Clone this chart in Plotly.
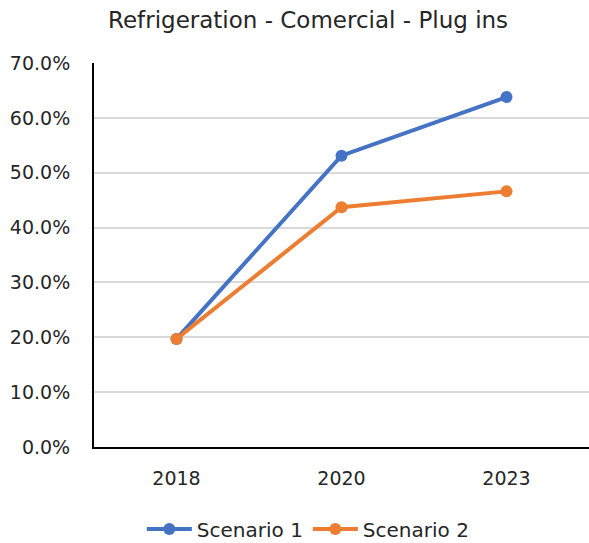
import plotly.graph_objects as go

years = ["2018", "2020", "2023"]
scenario_1 = [0.197, 0.531, 0.638]
scenario_2 = [0.197, 0.437, 0.466]
y_ticks = [0, 0.1, 0.2, 0.3, 0.4, 0.5, 0.6, 0.7]

font_name = "DejaVu Sans"

fig = go.Figure()
fig.add_trace(go.Scatter(x=years, y=scenario_1, name="Scenario 1", mode="lines+markers",
                         line=dict(color="#4472C4", width=4), marker=dict(size=12)))
fig.add_trace(go.Scatter(x=years, y=scenario_2, name="Scenario 2", mode="lines+markers",
                         line=dict(color="#ED7D31", width=4), marker=dict(size=12)))

fig.update_layout(
    width=589, height=543,
    margin=dict(l=94, r=0, t=63, b=96, autoexpand=False),
    paper_bgcolor="white", plot_bgcolor="white",
    font=dict(family=font_name, size=19, color="#262626"),
    title=dict(text="Refrigeration - Comercial - Plug ins", x=0.523, xanchor="center",
               y=0.963, yanchor="middle", font=dict(size=23, color="#262626")),
    showlegend=True,
    legend=dict(orientation="h", x=0.433, xanchor="center", y=-0.2135, yanchor="middle",
                font=dict(size=20), tracegroupgap=0, itemwidth=45),
    xaxis=dict(type="category", range=[-0.5, 2.5], showline=True, linecolor="black",
               linewidth=2, showgrid=False, ticks="", ticklabelstandoff=13,
               automargin=False),
    yaxis=dict(range=[0, 0.7], tickvals=y_ticks, tickformat=".1%", showline=True,
               linecolor="black", linewidth=2, gridcolor="#d9d9d9", gridwidth=1.5,
               ticks="", ticklabelstandoff=18, zeroline=False, automargin=False),
)

# drop the default 8px body margin so the figure sits at the window's corner
fig.write_html("out.html", config={"displayModeBar": False},
               post_script="document.body.style.margin='0';")
